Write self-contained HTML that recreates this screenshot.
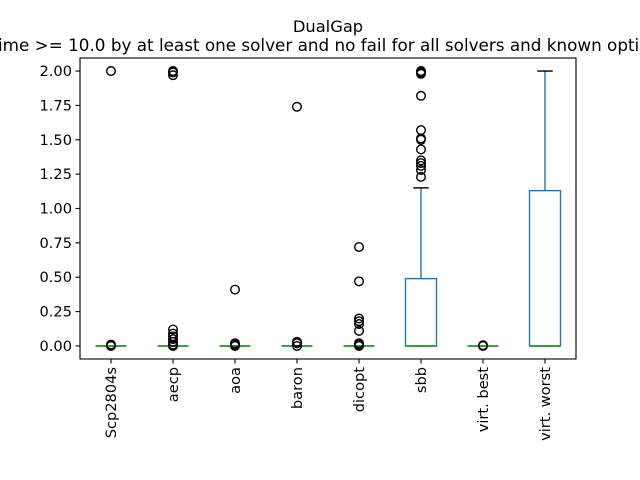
<!DOCTYPE html>
<html><head><meta charset="utf-8"><style>
html,body{margin:0;padding:0;background:#fff;}
svg{display:block;font-family:"DejaVu Sans","Liberation Sans",sans-serif;}
</style></head><body>
<svg id="chart" width="640" height="480" viewBox="0 0 640 480">
<rect x="0" y="0" width="640" height="480" fill="#fff"/>
<text x="328" y="32" text-anchor="middle" font-size="16.3">DualGap</text>
<text x="-2" y="51" text-anchor="end" font-size="16.8">Instances with t</text>
<text x="-2" y="51" font-size="16.8">ime &gt;= 10.0 by at least one solver and no fail for all solvers and known optimal solution</text>
<g id="plot"></g>
</svg>
<script>
const categories = ["Scp2804s","aecp","aoa","baron","dicopt","sbb","virt. best","virt. worst"];
const q1 = [0,0,0,0,0,0,0,0];
const med = [0,0,0,0,0,0,0,0];
const q3 = [0,0,0,0,0,0.49,0,1.13];
const whisLo = [0,0,0,0,0,0,0,0];
const whisHi = [0,0,0,0,0,1.15,0,2.0];
const outliers = [
 [2.0,0.0,0.01,0.005],
 [2.0,1.99,1.97,0.12,0.09,0.07,0.05,0.03,0.01,0.0],
 [0.41,0.0,0.01,0.02],
 [1.74,0.0,0.02,0.03],
 [0.72,0.47,0.20,0.18,0.16,0.11,0.02,0.01,0.0],
 [2.0,1.99,1.98,1.82,1.57,1.51,1.50,1.43,1.35,1.33,1.31,1.28,1.23],
 [0.0,0.005],
 []
];
const yTicks = [0,0.25,0.5,0.75,1.0,1.25,1.5,1.75,2.0];
const yTickLabels = ["0.00","0.25","0.50","0.75","1.00","1.25","1.50","1.75","2.00"];

const L=80,R=576,T=58,B=359;
const yMin=-0.095,yMax=2.095;
const ys=v=>B-(v-yMin)/(yMax-yMin)*(B-T);
const xs=i=>L+(R-L)/categories.length*(i+0.5);
const NS="http://www.w3.org/2000/svg";
const g=document.getElementById('plot');
function mk(tag,attrs,parent){const e=document.createElementNS(NS,tag);for(const k in attrs)e.setAttribute(k,attrs[k]);(parent||g).appendChild(e);return e;}
const hw=15.5, cap=7.75;
categories.forEach((c,i)=>{
  const x=xs(i);
  const grp=mk('g',{});
  
  
  mk('rect',{x:x-hw,y:ys(q3[i]),width:2*hw,height:Math.max(0,ys(q1[i])-ys(q3[i])),fill:'none',stroke:'#1f77b4','stroke-width':1.4},grp);
  mk('line',{x1:x,x2:x,y1:ys(q3[i]),y2:ys(whisHi[i]),stroke:'#1f77b4','stroke-width':1.4},grp);
  mk('line',{x1:x,x2:x,y1:ys(q1[i]),y2:ys(whisLo[i]),stroke:'#1f77b4','stroke-width':1.4},grp);
  mk('line',{x1:x-cap,x2:x+cap,y1:ys(whisHi[i]),y2:ys(whisHi[i]),stroke:'#000','stroke-width':1.4},grp);
  mk('line',{x1:x-cap,x2:x+cap,y1:ys(whisLo[i]),y2:ys(whisLo[i]),stroke:'#000','stroke-width':1.4},grp);
  mk('line',{x1:x-hw,x2:x+hw,y1:ys(med[i]),y2:ys(med[i]),stroke:'#2ca02c','stroke-width':1.8},grp);
  outliers[i].forEach(v=>{
    const o=mk('circle',{cx:x,cy:ys(v),r:4.3,fill:'none',stroke:'#000','stroke-width':1.4},grp);
    
    
  });
  mk('line',{x1:x,x2:x,y1:B,y2:B+4.5,stroke:'#000','stroke-width':1.1});
  const t=mk('text',{x:0,y:0,'font-size':14.6,'text-anchor':'end',transform:`translate(${x+5},${B+8}) rotate(-90)`});
  t.textContent=c;
  
  
});
yTicks.forEach((v,k)=>{
  const y=ys(v);
  mk('line',{x1:L-4.5,x2:L,y1:y,y2:y,stroke:'#000','stroke-width':1.1});
  const t=mk('text',{x:L-8,y:y+5,'font-size':14.6,'text-anchor':'end'});
  t.textContent=yTickLabels[k];
  
  
});
const frame=mk('rect',{x:L,y:T,width:R-L,height:B-T,fill:'none',stroke:'#000','stroke-width':1.1});


</script>
</body></html>
